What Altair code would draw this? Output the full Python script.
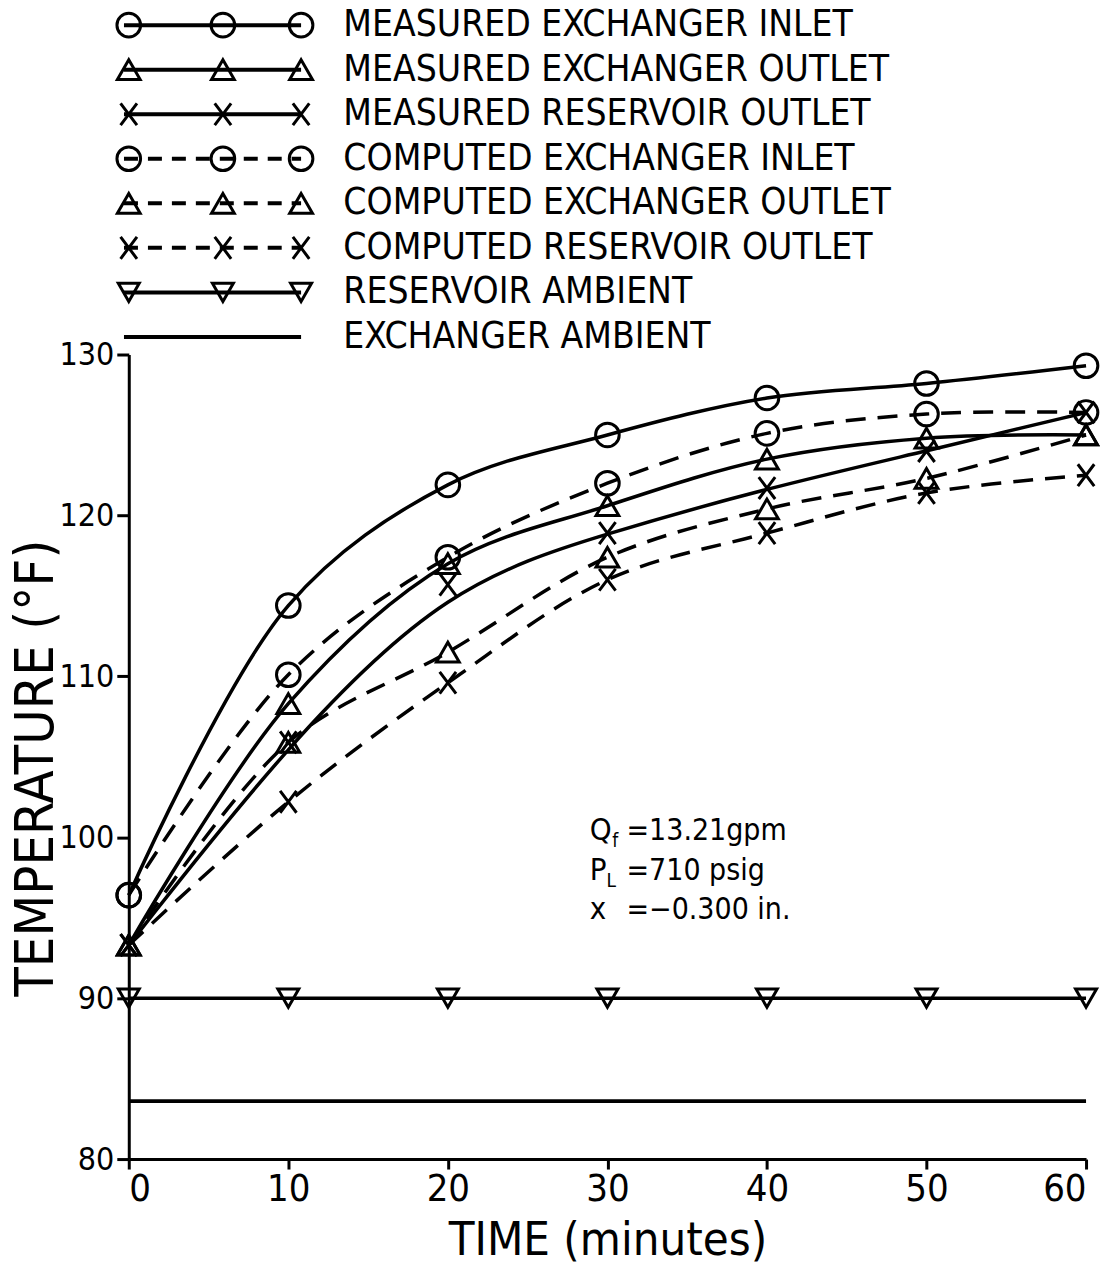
import altair as alt
import pandas as pd

# ---------------- data ----------------
TIME = [0, 10, 20, 30, 40, 50, 60]
MEASURED_EXCHANGER_INLET = [96.4, 114.4, 121.9, 125.0, 127.3, 128.2, 129.3]
MEASURED_EXCHANGER_OUTLET = [93.3, 108.3, 117.0, 120.6, 123.5, 124.8, 125.0]
MEASURED_RESERVOIR_OUTLET = [93.3, 105.9, 115.7, 118.9, 121.7, 124.0, 126.4]
COMPUTED_EXCHANGER_INLET = [96.4, 110.1, 117.4, 122.0, 125.1, 126.3, 126.4]
COMPUTED_EXCHANGER_OUTLET = [93.3, 105.9, 111.5, 117.4, 120.4, 122.3, 125.0]
COMPUTED_RESERVOIR_OUTLET = [93.3, 102.2, 109.6, 116.0, 118.9, 121.4, 122.5]
RESERVOIR_AMBIENT = [90.0, 90.0, 90.0, 90.0, 90.0, 90.0, 90.0]
EXCHANGER_AMBIENT_TIME = [0, 60]
EXCHANGER_AMBIENT = [83.6, 83.6]

LABELS = [
    "MEASURED EXCHANGER INLET",
    "MEASURED EXCHANGER OUTLET",
    "MEASURED RESERVOIR OUTLET",
    "COMPUTED EXCHANGER INLET",
    "COMPUTED EXCHANGER OUTLET",
    "COMPUTED RESERVOIR OUTLET",
    "RESERVOIR AMBIENT",
    "EXCHANGER AMBIENT",
]
MARKERS = ["circle", "triangle", "x", "circle", "triangle", "x", "tri_down", "none"]
DASHES = ["solid", "solid", "solid", "dashed", "dashed", "dashed", "solid", "solid"]
# the measured reservoir outlet curve is a smoothed fit that does not pass through every point
SMOOTHED = [False, False, True, False, False, False, False, False]

X_TICKS = [0, 10, 20, 30, 40, 50, 60]
Y_TICKS = [80, 90, 100, 110, 120, 130]

ANNOT_MAIN = ["Q", "P", "x"]
ANNOT_SUB = ["f", "L", ""]
ANNOT_REST = ["=13.21gpm", "=710 psig", "=\u22120.300 in."]
ANNOT_TEMP = [100.4, 97.9, 95.5]

# ---------------- layout / style constants ----------------
FONT = "DejaVu Sans Condensed, Liberation Sans Narrow, DejaVu Sans, sans-serif"
X_PATH = "M-0.75,-1L0.75,1M-0.75,1L0.75,-1"
ANNOT_X_MAIN = 28.9
ANNOT_X_SUB = [30.3, 29.95, 29.95]
ANNOT_X_REST = 31.2
LEG_MARK_X = [0.0, 5.9, 10.8]
LEG_LINE_X = [-0.3, 10.8]
LEG_TEXT_X = 13.45
PLOT_W, PLOT_H, LEG_H = 959, 806, 340

# ---------------- build tables ----------------
series_vals = [MEASURED_EXCHANGER_INLET, MEASURED_EXCHANGER_OUTLET, MEASURED_RESERVOIR_OUTLET,
               COMPUTED_EXCHANGER_INLET, COMPUTED_EXCHANGER_OUTLET, COMPUTED_RESERVOIR_OUTLET,
               RESERVOIR_AMBIENT]
rows = []
for lab, vals, mk, dsh, sm in zip(LABELS[:7], series_vals, MARKERS[:7], DASHES[:7], SMOOTHED[:7]):
    for t, v in zip(TIME, vals):
        rows.append(dict(t=t, temp=v, series=lab, marker=mk, dash=dsh, smooth=sm))
df = pd.DataFrame(rows)
amb = pd.DataFrame(dict(t=EXCHANGER_AMBIENT_TIME, temp=EXCHANGER_AMBIENT, series=LABELS[7]))

ann = pd.DataFrame(dict(main=ANNOT_MAIN, sub=ANNOT_SUB, rest=ANNOT_REST, temp=ANNOT_TEMP,
                        xm=[ANNOT_X_MAIN] * 3, xs=ANNOT_X_SUB, xr=[ANNOT_X_REST] * 3))

shape_scale = alt.Scale(domain=["circle", "triangle", "x", "tri_down"],
                        range=["circle", "triangle-up", X_PATH, "triangle-down"])
size_scale = alt.Scale(domain=["circle", "triangle", "x", "tri_down"],
                       range=[560, 440, 480, 400])

xs = alt.Scale(domain=[0, 60], nice=False, zero=False)
ys = alt.Scale(domain=[80, 130], nice=False, zero=False)

x_axis = alt.Axis(values=X_TICKS, title="TIME (minutes)", grid=False,
                  labelFontSize=38, titleFontSize=47, labelFont=FONT, titleFont=FONT,
                  titleFontWeight="normal", domainWidth=3, tickWidth=3, tickSize=10,
                  domainColor="black", tickColor="black", labelColor="black", titleColor="black",
                  labelPadding=2, titlePadding=9, format="d")
y_axis = alt.Axis(values=Y_TICKS, title="TEMPERATURE (\u00b0F)", grid=False,
                  labelFontSize=32, titleFontSize=54, labelFont=FONT, titleFont=FONT,
                  titleFontWeight="normal", domainWidth=3, tickWidth=3, tickSize=12,
                  domainColor="black", tickColor="black", labelColor="black", titleColor="black",
                  labelPadding=3, titleX=-76, titleY=414, titleBaseline="alphabetic",
                  titleAlign="center", titleAngle=270, format="d")

X = alt.X("t:Q", scale=xs, axis=x_axis)
Y = alt.Y("temp:Q", scale=ys, axis=y_axis)

base = alt.Chart(df)
solid = base.transform_filter((alt.datum.dash == "solid") & (alt.datum.smooth == False)).mark_line(
    interpolate="catmull-rom", color="black", strokeWidth=3.5).encode(x=X, y=Y, detail="series:N")
solid_smooth = base.transform_filter((alt.datum.dash == "solid") & (alt.datum.smooth == True)).mark_line(
    interpolate="basis", color="black", strokeWidth=3.5).encode(x=X, y=Y, detail="series:N")
dashed = base.transform_filter(alt.datum.dash == "dashed").mark_line(
    interpolate="catmull-rom", color="black", strokeWidth=3.5, strokeDash=[20, 12]).encode(
    x=X, y=Y, detail="series:N")
points = base.mark_point(filled=False, color="black", strokeWidth=3, opacity=1).encode(
    x=X, y=Y,
    shape=alt.Shape("marker:N", scale=shape_scale, legend=None),
    size=alt.Size("marker:N", scale=size_scale, legend=None))
amb_line = alt.Chart(amb).mark_line(color="black", strokeWidth=4).encode(x=X, y=Y)

annot_main = alt.Chart(ann).mark_text(align="left", baseline="middle", font=FONT,
                                      fontSize=31, color="black").encode(
    x=alt.X("xm:Q", scale=xs), y=alt.Y("temp:Q", scale=ys), text="main:N")
annot_sub = alt.Chart(ann).mark_text(align="left", baseline="middle", font=FONT,
                                     fontSize=19, color="black", dy=10).encode(
    x=alt.X("xs:Q", scale=xs), y=alt.Y("temp:Q", scale=ys), text="sub:N")
annot_rest = alt.Chart(ann).mark_text(align="left", baseline="middle", font=FONT,
                                      fontSize=30, color="black").encode(
    x=alt.X("xr:Q", scale=xs), y=alt.Y("temp:Q", scale=ys), text="rest:N")

main = alt.layer(amb_line, solid, solid_smooth, dashed, points,
                 annot_main, annot_sub, annot_rest).properties(width=PLOT_W, height=PLOT_H)

# ---------------- hand-drawn style legend panel ----------------
leg_pts, leg_lines, leg_text = [], [], []
for r, (lab, mk, dsh) in enumerate(zip(LABELS, MARKERS, DASHES)):
    if mk != "none":
        for lx in LEG_MARK_X:
            leg_pts.append(dict(lx=lx, ly=r, marker=mk))
    for lx in LEG_LINE_X:
        leg_lines.append(dict(lx=lx, ly=r, key=r, dash=dsh))
    leg_text.append(dict(lx=LEG_TEXT_X, ly=r, label=lab))
leg_pts, leg_lines, leg_text = map(pd.DataFrame, (leg_pts, leg_lines, leg_text))

lxs = alt.Scale(domain=[0, 60], nice=False, zero=False)
lys = alt.Scale(domain=[-0.36, 7.26], nice=False, zero=False, reverse=True)
LX = alt.X("lx:Q", scale=lxs, axis=None)
LY = alt.Y("ly:Q", scale=lys, axis=None)

leg_solid = alt.Chart(leg_lines).transform_filter(alt.datum.dash == "solid").mark_line(
    color="black", strokeWidth=4).encode(x=LX, y=LY, detail="key:N")
leg_dashed = alt.Chart(leg_lines).transform_filter(alt.datum.dash == "dashed").mark_line(
    color="black", strokeWidth=4, strokeDash=[14, 10]).encode(x=LX, y=LY, detail="key:N")
leg_points = alt.Chart(leg_pts).mark_point(filled=False, color="black", strokeWidth=3,
                                           opacity=1).encode(
    x=LX, y=LY,
    shape=alt.Shape("marker:N", scale=shape_scale, legend=None),
    size=alt.Size("marker:N", scale=size_scale, legend=None))
leg_labels = alt.Chart(leg_text).mark_text(align="left", baseline="middle", font=FONT,
                                           fontSize=37, color="black").encode(
    x=LX, y=LY, text="label:N")

legend = alt.layer(leg_solid, leg_dashed, leg_points, leg_labels).properties(
    width=PLOT_W, height=LEG_H)

chart = alt.vconcat(legend, main, spacing=6, bounds="flush").resolve_scale(
    shape="shared", size="shared").configure_view(stroke=None).properties(
    padding={"left": 10, "top": 5, "right": 5, "bottom": 5}, background="white")

chart.save("out.html", embed_options={"renderer": "svg", "actions": False})
